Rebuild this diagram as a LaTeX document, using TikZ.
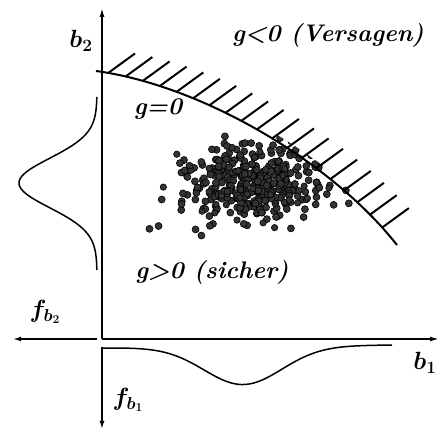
\documentclass[tikz,border=0pt]{standalone}
\usepackage{fontspec}
\usetikzlibrary{arrows.meta,positioning,decorations.markings}

\begin{document}
\begin{tikzpicture}[
  x=1pt, y=-1pt,
  >=Latex,
  axis/.style={line width=1.5pt, -{Latex[length=9pt,width=5pt]}},
  openaxis/.style={line width=1.5pt, -{Latex[open,length=8pt,width=5pt]}},
  density/.style={line width=1.5pt},
  limit/.style={
    line width=2pt,
    postaction={decorate},
    decoration={markings,
      mark=between positions 0.035 and 0.95 step 0.05 with {
        \pgftransformresetnontranslations
        \draw[line width=2pt] (0,0) -- (36:33pt);}}
  },
  lbl/.style={font=\fontsize{24}{27}\selectfont\bfseries\itshape, inner sep=0pt},
  mlbl/.style={font=\fontsize{24}{27}\selectfont\boldmath, inner sep=0pt},
  dot/.style={fill=black!80, draw=black, line width=0.6pt}
]
\useasboundingbox (0,0) rectangle (440,430);

% axes
\coordinate (O) at (102,339);
\coordinate (b2end) at (102,8);
\coordinate (b1end) at (439,339);
\coordinate (fb2end) at (13,339);
\coordinate (fb1start) at (102,347);
\coordinate (fb1end) at (102,429);
\draw[axis] (O) -- (b2end);
\draw[axis] (O) -- (b1end);
\draw[openaxis] ([xshift=-5pt]O) -- (fb2end);
\draw[openaxis] (fb1start) -- (fb1end);

% densities f_b1 and f_b2
\draw[density] plot[domain=102:392, samples=80, smooth]
  (\x, {348 - 3*(\x-102)/290 + 38*exp(-((\x-243)/55)^2)});
\draw[density] plot[domain=97:270, samples=80, smooth]
  ({97 - 78*exp(-((\x-183)/35)^2)}, \x);

% limit state g=0
\coordinate (gA) at (96,71);
\coordinate (gB) at (397,245);

% sample points, kept (mostly) on the safe side
\begin{scope}
  \clip (gA) ++(0,-6) .. controls (200,79) and (330,154) .. (404,240)
    -- (440,430) -- (0,430) -- (0,65) -- cycle;
  \pgfmathsetseed{42}
  \foreach \k in {1,...,380}{
    \pgfmathsetmacro\dx{252+30*(rand+rand+rand+rand)}
    \pgfmathsetmacro\dy{183+16*(rand+rand+rand+rand)-0.05*(\dx-250)}
    \fill[dot] (\dx,\dy) circle[radius=3.5pt];
  }
  \foreach \k in {1,...,35}{
    \pgfmathsetmacro\dx{240+55*(rand+rand)}
    \pgfmathsetmacro\dy{190+24*(rand+rand)}
    \fill[dot] (\dx,\dy) circle[radius=3.2pt];
  }
\end{scope}

\draw[limit] (gA) .. controls (200,85) and (330,160) .. (gB);

% labels
\node[lbl] (fail) at (328,35) {g<0 (Versagen)};
\node[lbl] (limitlbl) at (158,109) {g=0};
\node[lbl] (safe) at (212,272) {g>0 (sicher)};
\node[mlbl] (b2lbl) at (81,41) {$b_2$};
\node[mlbl] (b1lbl) at (425,363) {$b_1$};
\node[mlbl] (fb2lbl) at (45,312) {$f_{b_2}$};
\node[mlbl] (fb1lbl) at (128,400) {$f_{b_1}$};
\end{tikzpicture}
\end{document}
